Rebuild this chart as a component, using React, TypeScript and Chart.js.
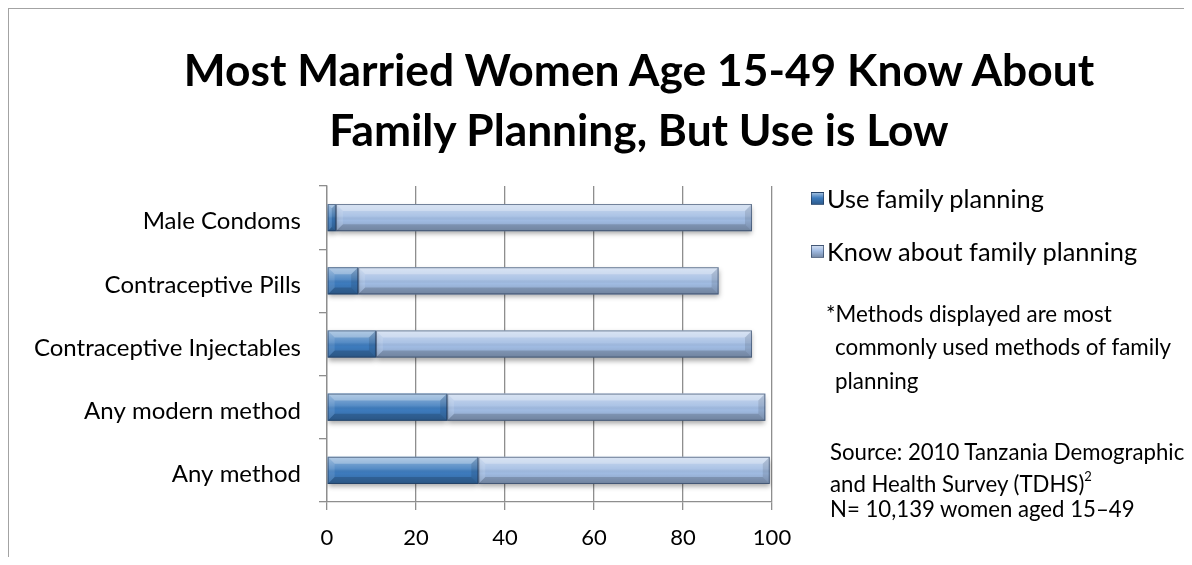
import React, { useEffect, useRef } from "react";
import { Chart, registerables } from "chart.js";

Chart.register(...registerables);

// ---------- data ----------
const categories = [
  "Male Condoms",
  "Contraceptive Pills",
  "Contraceptive Injectables",
  "Any modern method",
  "Any method",
];
const useValues = [2, 7, 11, 27, 34];
const knowValues = [95.5, 88, 95.5, 98.5, 99.5];
const seriesLabels = ["Use family planning", "Know about family planning"];
const xTickValues = [0, 20, 40, 60, 80, 100];
const titleLines = [
  "Most Married Women Age 15-49 Know About",
  "Family Planning, But Use is Low",
];
const noteLines = [
  "*Methods displayed are most",
  "commonly used methods of family",
  "planning",
];
const sourceLines = [
  "Source: 2010 Tanzania Demographic",
  "and Health Survey (TDHS)",
  "N= 10,139 women aged 15\u201349",
];

const knowSegments = knowValues.map((k, i) => k - useValues[i]);

const FONT = "Lato, 'Noto Sans', sans-serif";
const USE_COLOR = "#3d7bbd";
const KNOW_COLOR = "#a0bbe2";
const GRID = "#8e8e8e";

const OFF = 8; // body margin

function poly(c: CanvasRenderingContext2D, pts: number[][], fill: string) {
  c.beginPath();
  c.moveTo(pts[0][0], pts[0][1]);
  for (let i = 1; i < pts.length; i++) c.lineTo(pts[i][0], pts[i][1]);
  c.closePath();
  c.fillStyle = fill;
  c.fill();
}

const bevelPlugin = {
  id: "bevel",
  beforeDatasetsDraw(chart: any) {
    const c = chart.ctx;
    c.save();
    c.shadowColor = "rgba(0,0,0,0.35)";
    c.shadowBlur = 5;
    c.shadowOffsetX = 0;
    c.shadowOffsetY = 3;
  },
  afterDatasetsDraw(chart: any) {
    const c: CanvasRenderingContext2D = chart.ctx;
    c.restore();
    chart.data.datasets.forEach((_ds: any, di: number) => {
      const meta = chart.getDatasetMeta(di);
      meta.data.forEach((el: any) => {
        const p = el.getProps(["x", "y", "base", "height"], true);
        const l = Math.min(p.x, p.base);
        const r = Math.max(p.x, p.base);
        const t = p.y - p.height / 2;
        const b = p.y + p.height / 2;
        const w = r - l;
        const h = b - t;
        if (w <= 0) return;
        const bv = Math.min(7, w / 2, h / 2);
        c.save();
        const g = c.createLinearGradient(0, t, 0, b);
        g.addColorStop(0, "rgba(255,255,255,0.45)");
        g.addColorStop(0.45, "rgba(255,255,255,0.12)");
        g.addColorStop(0.6, "rgba(0,0,0,0)");
        g.addColorStop(1, "rgba(0,0,0,0.16)");
        c.fillStyle = g;
        c.fillRect(l, t, w, h);
        poly(c, [[l, t], [r, t], [r - bv, t + bv], [l + bv, t + bv]], "rgba(255,255,255,0.28)");
        poly(c, [[l, b], [r, b], [r - bv, b - bv], [l + bv, b - bv]], "rgba(0,0,0,0.16)");
        poly(c, [[l, t], [l + bv, t + bv], [l + bv, b - bv], [l, b]], "rgba(255,255,255,0.10)");
        poly(c, [[r, t], [r - bv, t + bv], [r - bv, b - bv], [r, b]], "rgba(0,0,0,0.10)");
        c.strokeStyle = "rgba(30,50,80,0.55)";
        c.lineWidth = 1;
        c.strokeRect(l + 0.5, t + 0.5, w - 1, h - 1);
        c.restore();
      });
    });
  },
};

function TextLine(props: {
  x: number;
  baseline: number;
  size: number;
  bold?: boolean;
  center?: boolean;
  children: React.ReactNode;
}) {
  const { x, baseline, size, bold, center, children } = props;
  return (
    <div
      style={{
        position: "absolute",
        left: x - OFF,
        top: baseline - OFF - 0.987 * size,
        fontFamily: FONT,
        fontSize: size,
        fontWeight: bold ? 700 : 400,
        lineHeight: `${1.2 * size}px`,
        whiteSpace: "nowrap",
        color: "#000",
        transform: center ? "translateX(-50%)" : undefined,
      }}
    >
      {children}
    </div>
  );
}

export default function App() {
  const canvasRef = useRef<HTMLCanvasElement | null>(null);

  useEffect(() => {
    const canvas = canvasRef.current;
    if (!canvas) return;
    const chart = new Chart(canvas, {
      type: "bar",
      data: {
        labels: categories,
        datasets: [
          {
            label: seriesLabels[0],
            data: useValues,
            backgroundColor: USE_COLOR,
            borderWidth: 0,
            barPercentage: 0.43,
            categoryPercentage: 1,
          },
          {
            label: seriesLabels[1],
            data: knowSegments,
            backgroundColor: KNOW_COLOR,
            borderWidth: 0,
            barPercentage: 0.43,
            categoryPercentage: 1,
          },
        ],
      },
      options: {
        indexAxis: "y",
        responsive: false,
        maintainAspectRatio: false,
        animation: false,
        layout: { padding: { top: 178, right: 412, bottom: 0, left: 0 } },
        scales: {
          x: {
            stacked: true,
            min: 0,
            max: 100,
            afterBuildTicks: (scale: any) => {
              scale.ticks = xTickValues.map((v) => ({ value: v }));
            },
            ticks: {
              color: "#000",
              font: { family: FONT, size: 22 },
              padding: 15,
              maxRotation: 0,
            },
            grid: {
              color: GRID,
              lineWidth: 1.3,
              tickLength: 8,
              drawTicks: true,
            },
            border: { display: true, color: GRID, width: 1.3 },
            afterFit: (scale: any) => {
              scale.height = 55;
            },
          },
          y: {
            stacked: true,
            ticks: {
              color: "#000",
              font: { family: FONT, size: 24 },
              padding: 18,
              labelOffset: 4,
            },
            grid: {
              offset: true,
              drawOnChartArea: false,
              tickLength: 8,
              color: GRID,
              lineWidth: 1.3,
            },
            border: { display: true, color: GRID, width: 1.3 },
            afterFit: (scale: any) => {
              scale.width = 319;
            },
          },
        },
        plugins: {
          legend: { display: false },
          title: { display: false },
          tooltip: { enabled: false },
        },
      },
      plugins: [bevelPlugin],
    } as any);
    return () => chart.destroy();
  }, []);

  const legendColors = [USE_COLOR, KNOW_COLOR];
  const legendBaselines = [208, 261];

  return (
    <div style={{ position: "relative", width: 1176, height: 549 }}>
      <div
        style={{
          position: "absolute",
          left: -1,
          top: -1,
          width: 1178,
          height: 551,
          borderTop: "2px solid #a3a3a3",
          borderLeft: "2px solid #a3a3a3",
          boxSizing: "border-box",
        }}
      />
      <canvas
        ref={canvasRef}
        width={1176}
        height={549}
        style={{ position: "absolute", left: 0, top: 0, width: 1176, height: 549 }}
      />
      <TextLine x={639} baseline={86} size={44.3} bold center>
        {titleLines[0]}
      </TextLine>
      <TextLine x={639} baseline={146} size={44.3} bold center>
        {titleLines[1]}
      </TextLine>
      {seriesLabels.map((lab, i) => (
        <React.Fragment key={lab}>
          <div
            style={{
              position: "absolute",
              left: 811 - OFF,
              top: legendBaselines[i] - 16 - OFF,
              width: 13,
              height: 13,
              background: `linear-gradient(to bottom, rgba(255,255,255,0.5), ${legendColors[i]} 45%, rgba(0,0,0,0.25))`,
              backgroundColor: legendColors[i],
              border: "1px solid rgba(30,50,80,0.6)",
              boxSizing: "border-box",
            }}
          />
          <TextLine x={827} baseline={legendBaselines[i]} size={25.4}>
            {lab}
          </TextLine>
        </React.Fragment>
      ))}
      <TextLine x={826} baseline={323} size={22.4}>
        {noteLines[0]}
      </TextLine>
      <TextLine x={835} baseline={356} size={22.4}>
        {noteLines[1]}
      </TextLine>
      <TextLine x={835} baseline={390} size={22.4}>
        {noteLines[2]}
      </TextLine>
      <TextLine x={830} baseline={461} size={22.2}>
        {sourceLines[0]}
      </TextLine>
      <TextLine x={830} baseline={493} size={22.2}>
        {sourceLines[1]}
        <sup style={{ fontSize: 13, verticalAlign: "baseline", position: "relative", top: -11 }}>2</sup>
      </TextLine>
      <TextLine x={830} baseline={518} size={22.2}>
        {sourceLines[2]}
      </TextLine>
    </div>
  );
}
